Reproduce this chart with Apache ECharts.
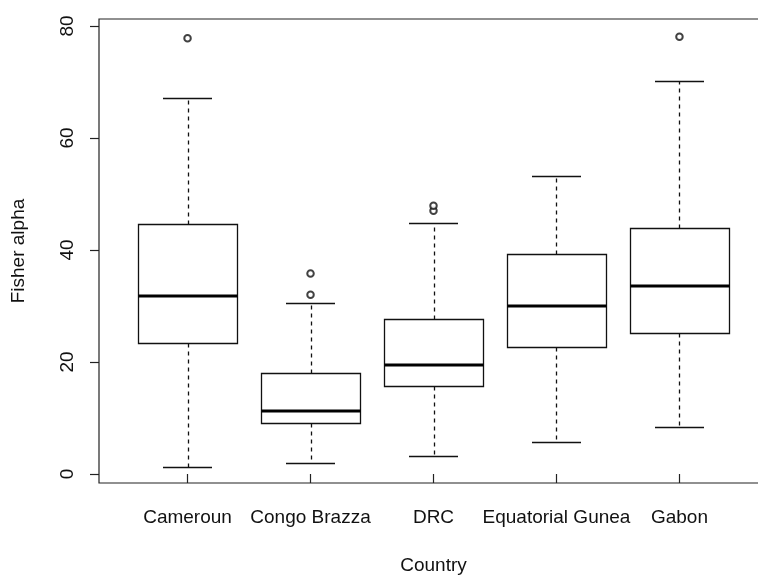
<!DOCTYPE html>
<html>
<head>
<meta charset="utf-8">
<script src="https://cdn.jsdelivr.net/npm/echarts@6/dist/echarts.min.js"></script>
<style>
html,body{margin:0;padding:0;background:#fff;}
#chart{width:758px;height:575px;}
</style>
</head>
<body>
<div id="chart"></div>
<script>
// ---- data ----
const categories = ['Cameroun', 'Congo Brazza', 'DRC', 'Equatorial Gunea', 'Gabon'];
const whiskerLow = [1.3, 2.0, 3.2, 5.65, 8.4];
const quartile1  = [23.4, 9.05, 15.7, 22.7, 25.1];
const medians    = [31.8, 11.25, 19.5, 30.0, 33.6];
const quartile3  = [44.6, 18.1, 27.6, 39.2, 44.0];
const whiskerHigh= [67.1, 30.5, 44.8, 53.2, 70.2];
const outlierCategory = [1, 2, 2, 3, 3, 5];
const outlierValue    = [77.8, 32.0, 35.8, 47.0, 47.9, 78.1];
const yTicks = [0, 20, 40, 60, 80];
const xTicks = [1, 2, 3, 4, 5];

// ---- build series data ----
const boxData = categories.map((c, i) => [i + 1, whiskerLow[i], quartile1[i], medians[i], quartile3[i], whiskerHigh[i]]);
const outlierData = outlierCategory.map((c, i) => [c, outlierValue[i]]);

const BOX_W = 0.8;   // box width in x units (R default)
const FONT = '"Liberation Sans", Arial, sans-serif';
const FS = 19;
const INK = '#111';

function crisp(v) { return Math.round(v) + 0.5; }

const chart = echarts.init(document.getElementById('chart'), null, { renderer: 'canvas' });
chart.setOption({
  backgroundColor: '#fff',
  animation: false,
  grid: {
    left: 99, top: 19, width: 669, height: 464,
    show: true, borderColor: '#222', borderWidth: 1.2, backgroundColor: 'transparent',
    containLabel: false, outerBoundsMode: 'none'
  },
  xAxis: {
    type: 'value', min: 0.28, max: 5.72,
    name: 'Country', nameLocation: 'middle', nameGap: 73,
    nameTextStyle: { fontFamily: FONT, fontSize: FS, color: INK },
    axisLine: { show: false },
    splitLine: { show: false },
    axisTick: { show: true, length: 9, lineStyle: { color: '#222', width: 1.2 }, customValues: xTicks },
    axisLabel: {
      show: true, margin: 25, fontFamily: FONT, fontSize: FS, color: INK,
      customValues: xTicks,
      formatter: v => categories[Math.round(v) - 1] || ''
    }
  },
  yAxis: {
    type: 'value', min: -1.607, max: 81.25,
    name: 'Fisher alpha', nameLocation: 'middle', nameGap: 71,
    nameTextStyle: { fontFamily: FONT, fontSize: FS, color: INK },
    axisLine: { show: false },
    splitLine: { show: false },
    axisTick: { show: true, length: 9, lineStyle: { color: '#222', width: 1.2 }, customValues: yTicks },
    axisLabel: {
      show: true, margin: 22, rotate: 90, fontFamily: FONT, fontSize: FS, color: INK,
      customValues: yTicks,
      formatter: v => String(Math.round(v))
    }
  },
  series: [
    {
      type: 'custom',
      data: boxData,
      encode: { x: 0, y: [1, 2, 3, 4, 5] },
      renderItem: function (params, api) {
        const x = api.value(0);
        const pMin = api.coord([x, api.value(1)]);
        const pQ1 = api.coord([x, api.value(2)]);
        const pMd = api.coord([x, api.value(3)]);
        const pQ3 = api.coord([x, api.value(4)]);
        const pMax = api.coord([x, api.value(5)]);
        const half = api.size([BOX_W, 0])[0] / 2;
        const capHalf = half * 0.5;
        const cx = crisp(pMd[0]);
        const left = Math.round(pMd[0] - half) + 0.5;
        const right = Math.round(pMd[0] + half) + 0.5;
        const yQ3 = crisp(pQ3[1]), yQ1 = crisp(pQ1[1]);
        const yMin = crisp(pMin[1]), yMax = crisp(pMax[1]);
        const thin = { stroke: '#111', lineWidth: 1.3, fill: null };
        const dash = { stroke: '#111', lineWidth: 1.3, lineDash: [4, 4], fill: null };
        return {
          type: 'group',
          children: [
            { type: 'line', shape: { x1: cx, y1: yQ3, x2: cx, y2: yMax }, style: dash },
            { type: 'line', shape: { x1: cx, y1: yQ1, x2: cx, y2: yMin }, style: dash },
            { type: 'line', shape: { x1: Math.round(pMd[0] - capHalf), y1: yMax, x2: Math.round(pMd[0] + capHalf), y2: yMax }, style: thin },
            { type: 'line', shape: { x1: Math.round(pMd[0] - capHalf), y1: yMin, x2: Math.round(pMd[0] + capHalf), y2: yMin }, style: thin },
            { type: 'rect', shape: { x: left, y: yQ3, width: right - left, height: yQ1 - yQ3 }, style: { stroke: '#111', lineWidth: 1.3, fill: '#fff' } },
            { type: 'line', shape: { x1: left, y1: Math.round(pMd[1]), x2: right, y2: Math.round(pMd[1]) }, style: { stroke: '#000', lineWidth: 3 } }
          ]
        };
      }
    },
    {
      type: 'scatter',
      data: outlierData,
      symbol: 'emptyCircle',
      symbolSize: 6.5,
      itemStyle: { color: '#111', borderColor: '#111', borderWidth: 1.2 }
    }
  ]
});
</script>
</body>
</html>
